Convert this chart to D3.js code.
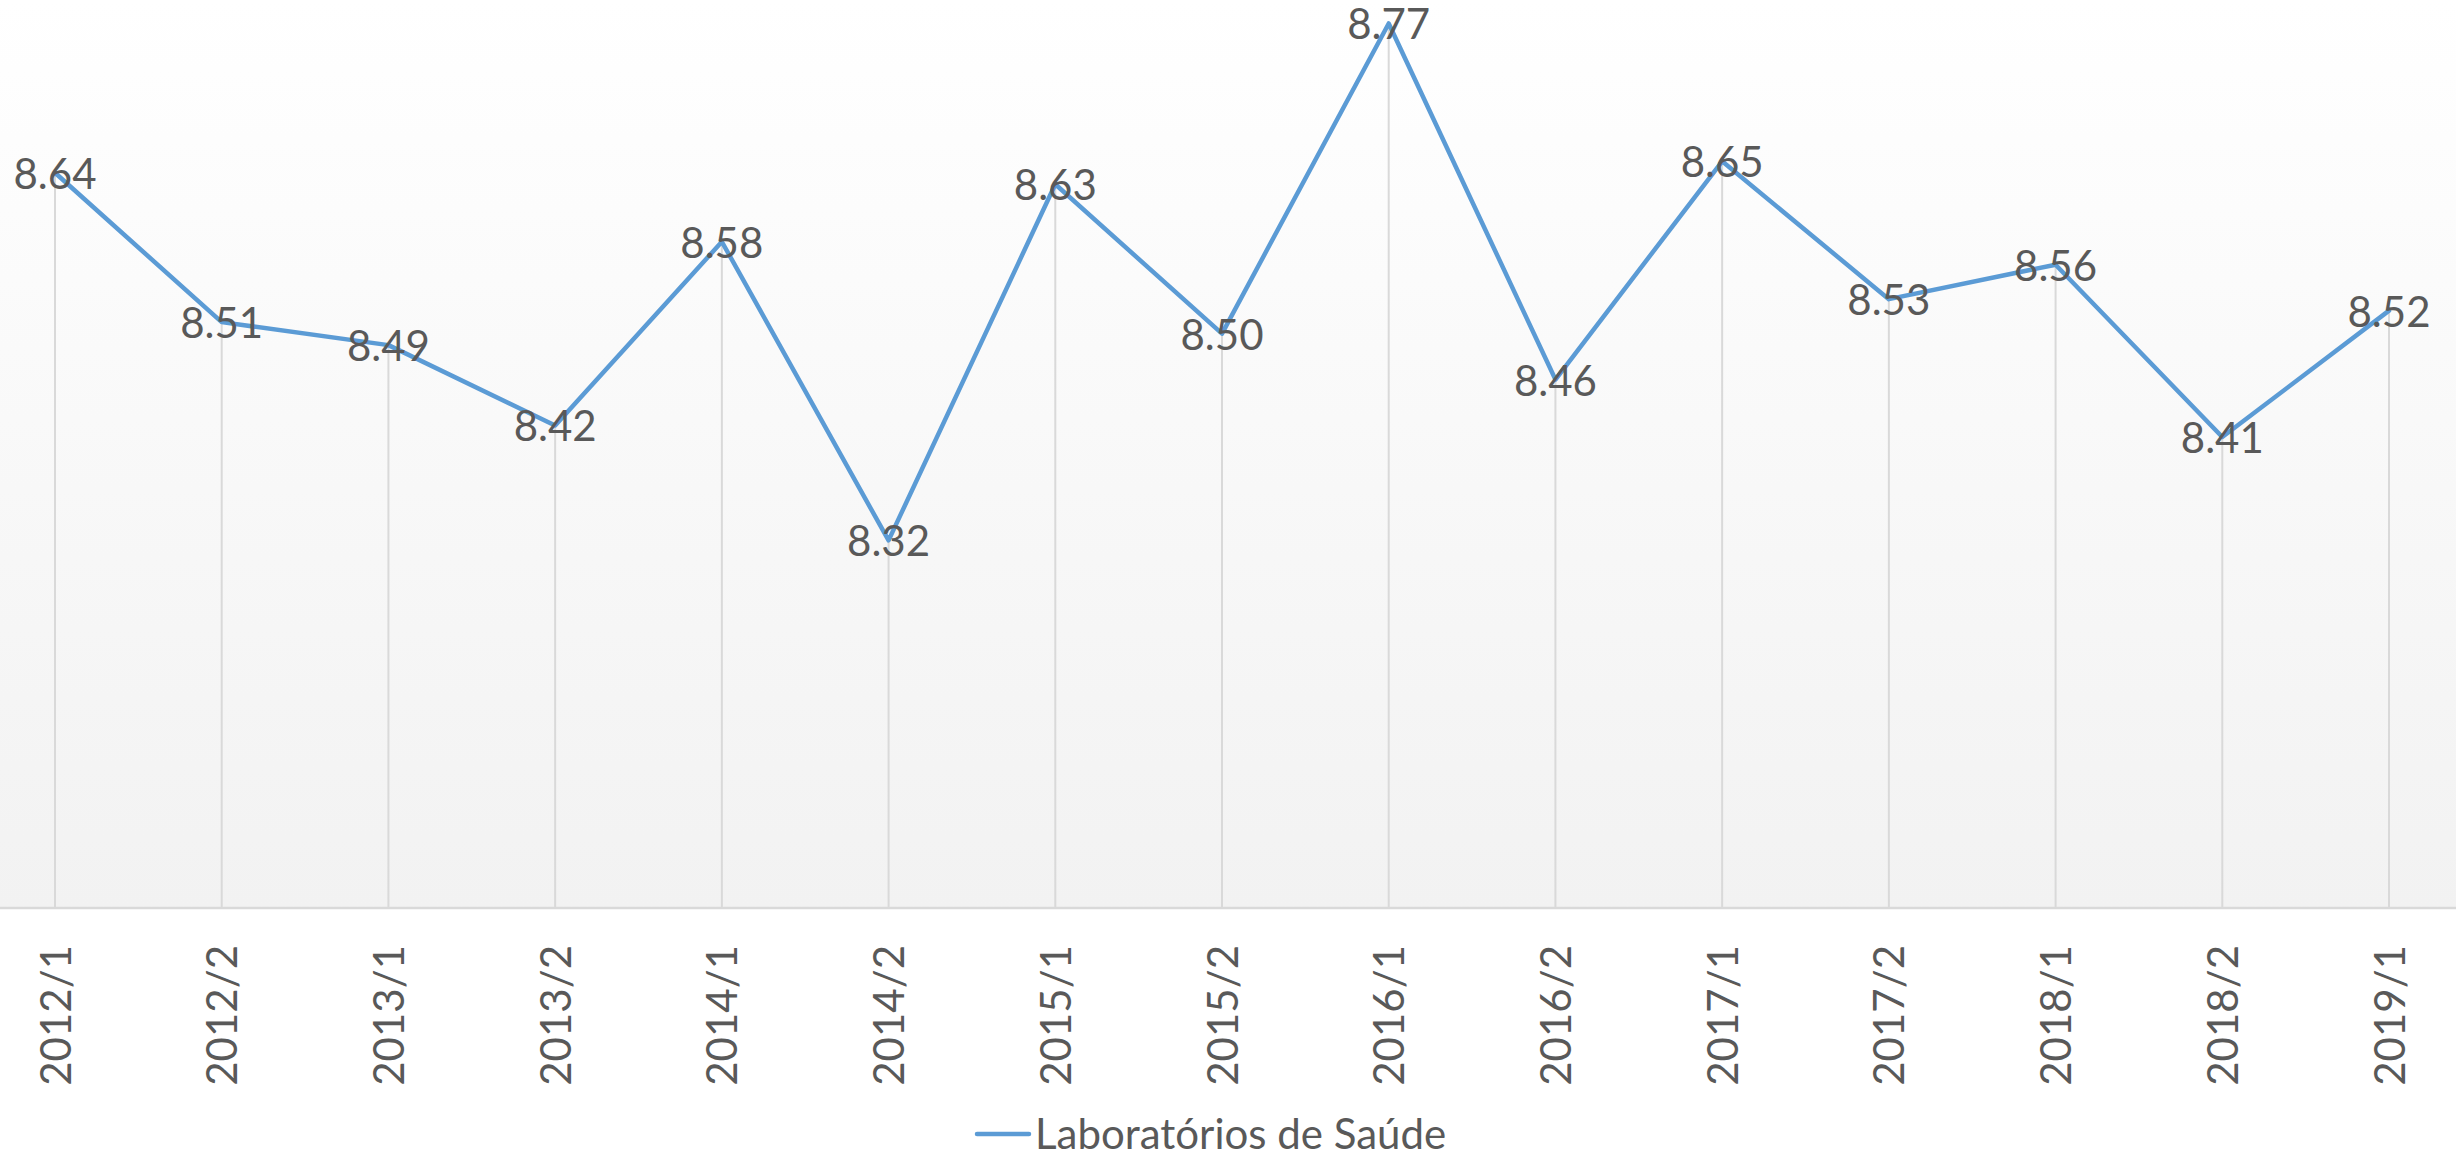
<!DOCTYPE html>
<html>
<head>
<meta charset="utf-8">
<title>Laboratórios de Saúde</title>
<style>
  body { margin: 0; overflow: hidden; background-color: #ffffff; }
  svg { display: block; }
  .lbl { font-family: Lato, "Open Sans", sans-serif; font-size: 42px; fill: #595959; }
</style>
</head>
<body>
<svg id="chart"></svg>
<script src="https://cdnjs.cloudflare.com/ajax/libs/d3/7.8.5/d3.min.js"></script>
<script>
  // data
  const periods = ["2012/1", "2012/2", "2013/1", "2013/2", "2014/1", "2014/2", "2015/1", "2015/2",
                   "2016/1", "2016/2", "2017/1", "2017/2", "2018/1", "2018/2", "2019/1"];
  const values = [8.64, 8.51, 8.49, 8.42, 8.58, 8.32, 8.63, 8.50, 8.77, 8.46, 8.65, 8.53, 8.56, 8.41, 8.52];
  const seriesName = "Laboratórios de Saúde";
  const yDomain = [8.0, 8.8];

  const width = 2456, height = 1160;
  const plotBottom = 908;
  const svg = d3.select("#chart").attr("width", width).attr("height", height);

  const x = d3.scalePoint().domain(periods).range([55, 2389]);
  const y = d3.scaleLinear().domain(yDomain).range([plotBottom, -11]);

  // plot area background gradient
  const grad = svg.append("defs").append("linearGradient")
    .attr("id", "bg").attr("x1", 0).attr("y1", 0).attr("x2", 0).attr("y2", 1);
  grad.append("stop").attr("offset", "0%").attr("stop-color", "#ffffff");
  grad.append("stop").attr("offset", "100%").attr("stop-color", "#f2f2f2");
  svg.append("rect").attr("x", 0).attr("y", 0).attr("width", width).attr("height", plotBottom)
    .attr("fill", "url(#bg)");

  // drop lines
  svg.append("g").selectAll("line").data(values).enter().append("line")
    .attr("x1", (d, i) => x(periods[i])).attr("x2", (d, i) => x(periods[i]))
    .attr("y1", d => y(d)).attr("y2", plotBottom)
    .attr("stroke", "#d9d9d9").attr("stroke-width", 2);

  // category axis
  const xAxis = svg.append("g").attr("transform", `translate(0,${plotBottom})`)
    .call(d3.axisBottom(x).tickSize(0).tickPadding(0));
  xAxis.select(".domain").remove();
  xAxis.append("line").attr("x1", 0).attr("x2", width).attr("y1", 0).attr("y2", 0)
    .attr("stroke", "#d9d9d9").attr("stroke-width", 2.5);
  xAxis.selectAll(".tick text")
    .attr("class", "lbl")
    .attr("fill", null)
    .attr("font-size", null).attr("font-family", null)
    .attr("text-anchor", "end")
    .attr("transform", "translate(0,37) rotate(-90)")
    .attr("x", 0).attr("y", 0).attr("dy", "0.36em");

  // series line
  const line = d3.line().x((d, i) => x(periods[i])).y(d => y(d));
  svg.append("path").datum(values)
    .attr("d", line)
    .attr("fill", "none")
    .attr("stroke", "#5b9bd5")
    .attr("stroke-width", 4.5)
    .attr("stroke-linejoin", "round")
    .attr("stroke-linecap", "round");

  // data labels centered on points
  svg.append("g").selectAll("text").data(values).enter().append("text")
    .attr("class", "lbl")
    .attr("text-anchor", "middle")
    .attr("x", (d, i) => x(periods[i]))
    .attr("y", d => y(d))
    .attr("dy", "0.38em")
    .text(d => d.toFixed(2));

  // legend
  const legend = svg.append("g").attr("transform", "translate(977,1134)");
  legend.append("line").attr("x1", 0).attr("x2", 52).attr("y1", 0).attr("y2", 0)
    .attr("stroke", "#5b9bd5").attr("stroke-width", 4.5).attr("stroke-linecap", "round");
  legend.append("text").attr("class", "lbl").attr("x", 58).attr("y", 0).attr("dy", "0.36em")
    .text(seriesName);
</script>
</body>
</html>
